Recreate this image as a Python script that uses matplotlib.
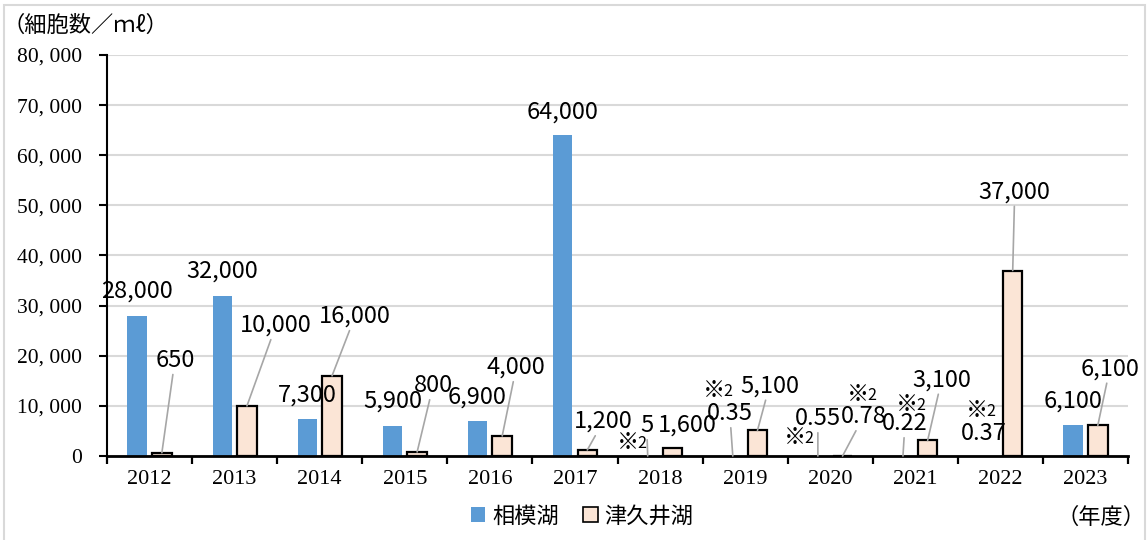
import matplotlib
matplotlib.use("Agg")
import matplotlib.pyplot as plt
import matplotlib.patches as patches

# data
years = ["2012", "2013", "2014", "2015", "2016", "2017",
         "2018", "2019", "2020", "2021", "2022", "2023"]
sagami = [28000, 32000, 7300, 5900, 6900, 64000, 5, 0.35, 0.55, 0.22, 0.37, 6100]
tsukui = [650, 10000, 16000, 800, 4000, 1200, 1600, 5100, 0.78, 3100, 37000, 6100]
sagami_note = [False] * 6 + [True, True, True, True, True, False]
tsukui_note = [False] * 8 + [True, False, False, False]
yticks = [0, 10000, 20000, 30000, 40000, 50000, 60000, 70000, 80000]

# label placement (pixel offset from bar top, leader line)
sagami_pos = [(0, 18, False), (0, 18, False), (0, 18, False), (0, 19, False),
              (0, 18, False), (0, 17, False), (-1, 24, True), (-3, 36, True),
              (0, 31, True), (2, 26, True), (-4, 16, False), (0, 18, False)]
tsukui_pos = [(13, 86, True), (29, 74, True), (23, 53, True), (16, 60, True),
              (14, 62, True), (16, 22, True), (15, 16, False), (12, 38, True),
              (21, 33, True), (14, 54, True), (2, 72, True), (12, 50, True)]
sagami_note_pos = [None] * 6 + [(-20, 13), (-19, 65), (-23, 18), (4, 51), (-11, 45), None]
tsukui_note_pos = [None] * 8 + [(15, 61), None, None, None]

BLUE = "#5B9BD5"
BEIGE = "#FBE5D6"
GRAY = "#A6A6A6"
SANS = ["Noto Sans CJK JP", "DejaVu Sans"]
SERIF = ["Liberation Serif", "DejaVu Serif"]
OFF = 0.145
W = 0.23


def fmt(v):
    return f"{v:,.0f}" if v >= 1 else f"{v}"


def label(ax, x, v, pos):
    dx, dy, lead = pos
    props = dict(arrowstyle="-", color=GRAY, lw=1.2, shrinkA=0, shrinkB=0) if lead else None
    ax.annotate(fmt(v), xy=(x, v), xytext=(dx, dy), textcoords="offset pixels",
                ha="center", va="baseline", fontsize=17, family=SANS,
                arrowprops=props, zorder=5)


def note(ax, x, v, pos):
    dx, dy = pos
    ax.annotate("※", xy=(x, v), xytext=(dx, dy), textcoords="offset pixels",
                ha="center", va="center", fontsize=16, family=SANS, zorder=5)
    ax.annotate("2", xy=(x, v), xytext=(dx + 14, dy - 1), textcoords="offset pixels",
                ha="center", va="center", fontsize=11.5, family=SANS, zorder=5)


fig = plt.figure(figsize=(11.47, 5.40), dpi=100)
fig.patches.append(patches.Rectangle((4 / 1147, -0.05), 1141 / 1147, 1.05 - 5 / 540,
                                     transform=fig.transFigure, fill=False,
                                     edgecolor="#D9D9D9", lw=1.5))
ax = fig.add_axes([107 / 1147, 84 / 540, 1021 / 1147, 401 / 540])

x = list(range(len(years)))
ax.bar([i - OFF for i in x], sagami, W, color=BLUE, zorder=3, label="相模湖")
ax.bar([i + OFF for i in x], tsukui, W, color=BEIGE, edgecolor="black", lw=1.6,
       zorder=3, label="津久井湖")

for i in x:
    label(ax, i - OFF, sagami[i], sagami_pos[i])
    label(ax, i + OFF, tsukui[i], tsukui_pos[i])
    if sagami_note[i]:
        note(ax, i - OFF, sagami[i], sagami_note_pos[i])
    if tsukui_note[i]:
        note(ax, i + OFF, tsukui[i], tsukui_note_pos[i])

ax.set_xlim(-0.5, len(years) - 0.5)
ax.set_ylim(0, 80000)

ax.set_yticks(yticks)
ax.set_yticklabels([f"{v:,}".replace(",", ", ") for v in yticks],
                   fontsize=15.5, family=SERIF)
ax.set_xticks(x)
ax.set_xticklabels(years, fontsize=16, family=SERIF)
ax.set_xticks([i - 0.5 for i in range(len(years) + 1)], minor=True)
ax.tick_params(axis="x", which="major", length=0, pad=10)
ax.tick_params(axis="x", which="minor", length=6, width=1.6, direction="out")
ax.tick_params(axis="y", length=6, width=1.5, pad=12)

ax.grid(True, axis="y", color="#D9D9D9", lw=1.5, zorder=0)
ax.set_axisbelow(True)
for s in ("top", "right"):
    ax.spines[s].set_visible(False)
ax.spines["left"].set_linewidth(1.5)
ax.spines["bottom"].set_linewidth(2)
ax.spines["bottom"].set_zorder(4)

fig.text(2 / 1147, 1 - 25 / 540, "（細胞数／ｍℓ）", fontsize=16, family=SANS,
         ha="left", va="center")
fig.text(1146 / 1147, 1 - 517 / 540, "（年度）", fontsize=16, family=SANS,
         ha="right", va="center")

h1 = patches.Patch(facecolor=BLUE, edgecolor="none")
h2 = patches.Patch(facecolor=BEIGE, edgecolor="black", lw=1.2)
fig.legend([h1, h2], ["相模湖", "津久井湖"], loc="center",
           bbox_to_anchor=(582 / 1147, 1 - 516 / 540), ncol=2, frameon=False,
           prop={"family": SANS, "size": 16}, handlelength=0.65, handleheight=0.65,
           handletextpad=0.3, columnspacing=1.1)

fig.savefig("out.png", dpi=100)
